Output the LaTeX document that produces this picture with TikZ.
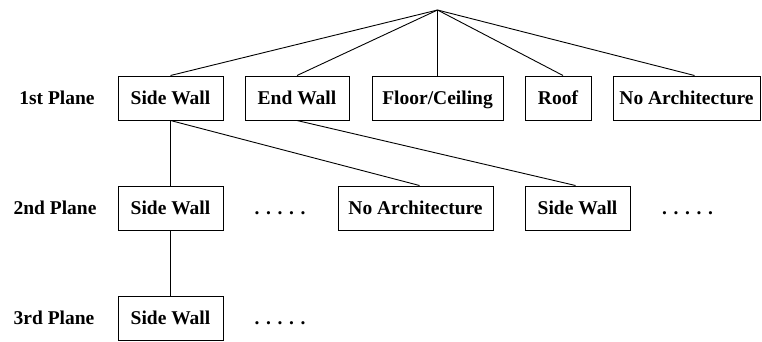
\documentclass[tikz,border=0pt]{standalone}
\usepackage{fontspec}
\setmainfont{Liberation Serif}
\begin{document}
\begin{tikzpicture}[x=1pt,y=-1pt,
  txt/.style={font=\fontsize{19.5}{23}\selectfont\bfseries,text height=15pt,text depth=2.4pt},
  box/.style={txt,draw,line width=1pt,rectangle,inner sep=0pt,minimum height=44pt},
  lbl/.style={txt,inner sep=0pt},
  dotsl/.style={txt,inner sep=0pt},
  conn/.style={line width=0.9pt}]
\newcommand{\fivedots}{.\hspace{6.6pt}.\hspace{6.6pt}.\hspace{6.6pt}.\hspace{6.6pt}.}
\useasboundingbox (0,0) rectangle (762,341);
\coordinate (apex) at (437.5,10);
% row 1
\node[box,minimum width=105pt] (sw1) at (170.5,98) {Side Wall};
\node[box,minimum width=104pt] (ew1) at (297,98) {End Wall};
\node[box,minimum width=131pt] (fc1) at (437.5,98) {Floor/Ceiling};
\node[box,minimum width=66pt] (rf1) at (558,98) {Roof};
\node[box,minimum width=147pt] (na1) at (686.5,98) {No Architecture};
\node[lbl] (p1) at (57,98) {1st Plane};
% row 2
\node[box,minimum width=105pt] (sw2) at (170.5,208) {Side Wall};
\node[dotsl] (d2a) at (280,208) {\fivedots};
\node[box,minimum width=155pt] (na2) at (415.5,208) {No Architecture};
\node[box,minimum width=105pt] (sw2b) at (577.5,208) {Side Wall};
\node[dotsl] (d2b) at (687.5,208) {\fivedots};
\node[lbl] (p2) at (55,208) {2nd Plane};
% row 3
\node[box,minimum width=105pt] (sw3) at (170.5,318.5) {Side Wall};
\node[dotsl] (d3) at (280,318.5) {\fivedots};
\node[lbl] (p3) at (54,318.5) {3rd Plane};
% connectors
\draw[conn] (apex) -- (sw1.north);
\draw[conn] (apex) -- (ew1.north);
\draw[conn] (apex) -- (fc1.north);
\draw[conn] (apex) -- ([xshift=5pt]rf1.north);
\draw[conn] (apex) -- ([xshift=8pt]na1.north);
\draw[conn] (sw1.south) -- (sw2.north);
\draw[conn] (sw1.south) -- ([xshift=4pt]na2.north);
\draw[conn] (ew1.south) -- ([xshift=-2pt]sw2b.north);
\draw[conn] (sw2.south) -- (sw3.north);
\end{tikzpicture}
\end{document}
